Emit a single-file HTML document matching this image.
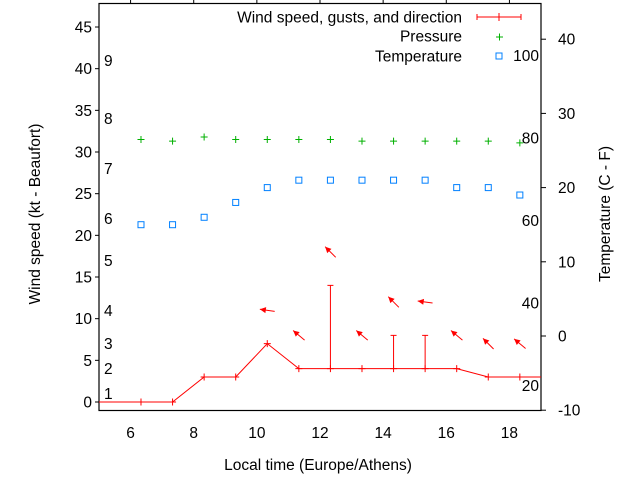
<!DOCTYPE html>
<html><head><meta charset="utf-8"><style>
html,body{margin:0;padding:0;background:#fff}
svg text{font-family:"Liberation Sans",sans-serif;font-size:15.5px;fill:#000}
</style></head><body>
<svg id="c" width="640" height="480" xmlns="http://www.w3.org/2000/svg">
<rect x="0" y="0" width="640" height="480" fill="#fff"/>
</svg>
<script>
const times=[6.33,7.33,8.33,9.33,10.33,11.33,12.33,13.33,14.33,15.33,16.33,17.33,18.33];
const windSpeed=[0,0,3,3,7,4,4,4,4,4,4,3,3];
const gusts=[null,null,null,null,null,null,14,null,8,8,null,null,null];
const windDir=[null,null,null,null,172,140,135,140,135,172,140,135,140];
const pressure=[31.5,31.3,31.8,31.5,31.5,31.5,31.5,31.3,31.3,31.3,31.3,31.3,31.1];
const temperature=[15,15,16,18,20,21,21,21,21,21,20,20,19];
const xTicks=[6,8,10,12,14,16,18];
const yTicks=[0,5,10,15,20,25,30,35,40,45];
const y2Ticks=[-10,0,10,20,30,40];
const fTicks=[20,40,60,80,100];
const beaufortKt=[1,4,7,11,17,22,28,34,41];
const beaufortLabels=["1","2","3","4","5","6","7","8","9"];

const L=99,R=541,T=3.5,B=410.5;
const X=v=>L+(v-5)*(R-L)/14;
const Y=v=>402-v*8.333;
const Y2=c=>336-c*7.42;
const svg=document.getElementById('c');
const NS='http://www.w3.org/2000/svg';
function mk(tag,attrs,parent){const e=document.createElementNS(NS,tag);for(const k in attrs)e.setAttribute(k,attrs[k]);(parent||svg).appendChild(e);return e;}

let fr=mk('rect',{x:L,y:T,width:R-L,height:B-T,fill:'none',stroke:'#000','stroke-width':1.2});



xTicks.forEach(t=>{
  let l=mk('line',{x1:X(t),x2:X(t),y1:0,y2:T,stroke:'#000'});
  
  
  let tx=mk('text',{x:X(t),y:438,'text-anchor':'middle'});tx.textContent=t;
  
  
});
yTicks.forEach(t=>{
  let l=mk('line',{x1:L-4,x2:L,y1:Y(t),y2:Y(t),stroke:'#000'});
  
  
  let tx=mk('text',{x:L-7,y:Y(t)+5.5,'text-anchor':'end'});tx.textContent=t;
  
  
});
y2Ticks.forEach(t=>{
  let l=mk('line',{x1:R,x2:R+5,y1:Y2(t),y2:Y2(t),stroke:'#000'});
  
  
  let tx=mk('text',{x:558,y:Y2(t)+5.5,'text-anchor':'start'});tx.textContent=t;
  
  
});
fTicks.forEach(f=>{
  let tx=mk('text',{x:539,y:Y2((f-32)*5/9)+5.5,'text-anchor':'end'});tx.textContent=f;
  
  
});
beaufortKt.forEach((k,i)=>{
  let tx=mk('text',{x:104,y:Y(k)+5.5});tx.textContent=beaufortLabels[i];
  
  
});

let t1=mk('text',{x:318,y:470,'text-anchor':'middle'});t1.textContent='Local time (Europe/Athens)';


let t2=mk('text',{x:0,y:0,'text-anchor':'middle',transform:'translate(40,214) rotate(-90)'});t2.textContent='Wind speed (kt - Beaufort)';


let t3=mk('text',{x:0,y:0,'text-anchor':'middle',transform:'translate(610,214) rotate(-90)'});t3.textContent='Temperature (C - F)';



let pts=[[L,Y(windSpeed[0])]];
times.forEach((t,i)=>pts.push([X(t),Y(windSpeed[i])]));
pts.push([R,Y(windSpeed[windSpeed.length-1])]);
let wl=mk('polyline',{points:pts.map(p=>p.join(',')).join(' '),fill:'none',stroke:'#f00','stroke-width':1});


times.forEach((t,i)=>{
  const x=X(t),y=Y(windSpeed[i]);
  let p=mk('path',{d:`M${x-3.5},${y}H${x+3.5}M${x},${y-3.5}V${y+3.5}`,stroke:'#f00'});
  
  
  if(gusts[i]!=null){
    const g=Y(gusts[i]);
    let gb=mk('path',{d:`M${x},${y}V${g}M${x-3},${g}H${x+3}`,stroke:'#f00'});
    
    
  }
  if(windDir[i]!=null){
    const top=Math.max(windSpeed[i],gusts[i]||0)+4;
    const cx=x,cy=Y(top),a=windDir[i]*Math.PI/180,len=15;
    const dx=Math.cos(a),dy=-Math.sin(a);
    const hx=cx+dx*len/2,hy=cy+dy*len/2,tx=cx-dx*len/2,ty=cy-dy*len/2;
    const px=-dy,py=dx,h=6,w=3;
    let ar=mk('g',{});
    
    
    mk('line',{x1:tx,y1:ty,x2:hx,y2:hy,stroke:'#f00','stroke-width':1},ar);
    mk('polygon',{points:`${hx},${hy} ${hx-dx*h+px*w},${hy-dy*h+py*w} ${hx-dx*h-px*w},${hy-dy*h-py*w}`,fill:'#f00'},ar);
  }
});
times.forEach((t,i)=>{
  const x=X(t),y=Y(pressure[i]);
  let p=mk('path',{d:`M${x-3.5},${y}H${x+3.5}M${x},${y-3.5}V${y+3.5}`,stroke:'#00b000'});
  
  
});
times.forEach((t,i)=>{
  const x=X(t),y=Y2(temperature[i]);
  let r=mk('rect',{x:x-3,y:y-3,width:6,height:6,fill:'none',stroke:'#0080ff'});
  
  
});

const lg=mk('g',{});


[['Wind speed, gusts, and direction',17],['Pressure',36],['Temperature',56]].forEach(([s,y])=>{
  let tx=mk('text',{x:462,y:y+5.5,'text-anchor':'end'},lg);tx.textContent=s;
  
  
});
mk('path',{d:'M477,17H521M477,14V20M521,14V20M499,13V21',stroke:'#f00'},lg);
mk('path',{d:'M496,37H503M499.5,33.5V40.5',stroke:'#00b000'},lg);
mk('rect',{x:496,y:53,width:6,height:6,fill:'none',stroke:'#0080ff'},lg);
</script>
</body></html>
